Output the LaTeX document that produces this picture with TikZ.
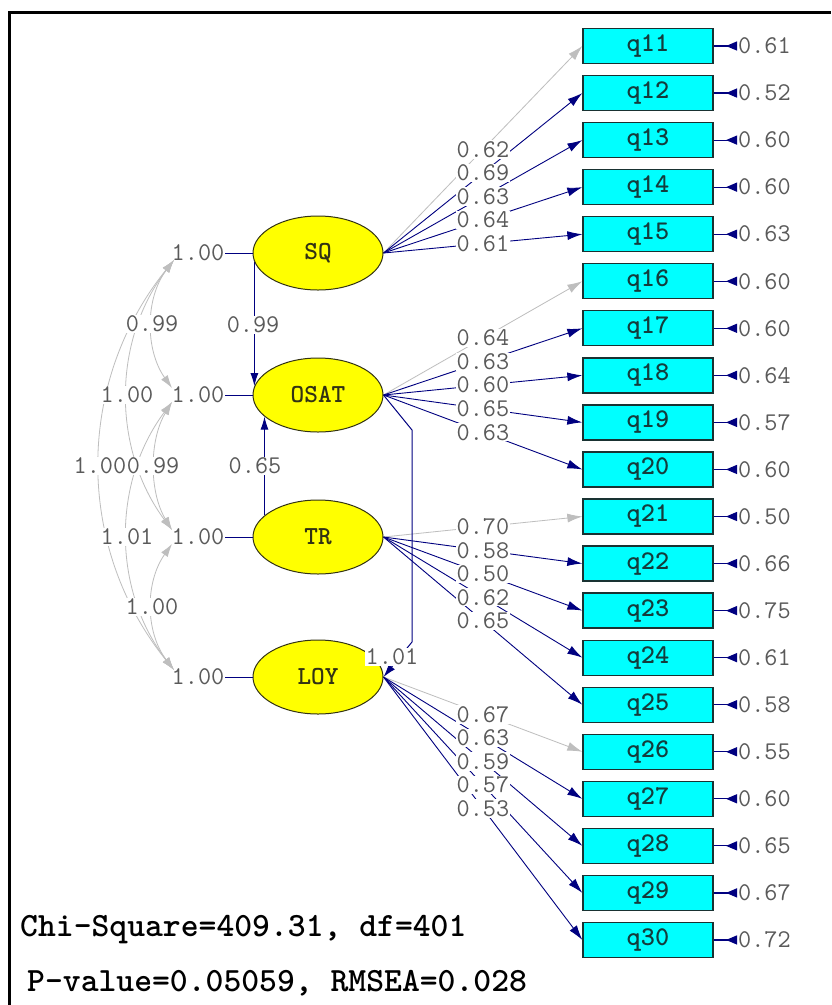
\documentclass[tikz,border=0pt]{standalone}
\usetikzlibrary{arrows.meta,calc,shapes.geometric}
\pgfdeclarelayer{bottom}
\pgfdeclarelayer{lines}
\pgfsetlayers{bottom,lines,main}
\definecolor{navyc}{RGB}{0,0,128}
\definecolor{corgray}{RGB}{190,190,190}
\definecolor{numgray}{RGB}{90,90,90}
\definecolor{latedge}{RGB}{50,50,20}
\definecolor{lattext}{RGB}{50,50,20}
\definecolor{latfill}{RGB}{255,255,0}
\definecolor{obsfill}{RGB}{0,255,255}
\definecolor{obsedge}{RGB}{25,50,50}
\definecolor{obstext}{RGB}{20,60,60}
\begin{document}
\begin{tikzpicture}[x=1pt,y=-1pt,
  lat/.style={ellipse, fill=latfill, draw=latedge, line width=1pt, minimum width=130pt, minimum height=74pt, inner sep=0pt, font=\ttfamily\bfseries\fontsize{26}{26}\selectfont, text=lattext},
  obs/.style={rectangle, fill=obsfill, draw=obsedge, line width=1.3pt, minimum width=130pt, minimum height=35pt, inner sep=0pt, font=\ttfamily\bfseries\fontsize{27}{27}\selectfont, text=obstext},
  num/.style={font=\ttfamily\fontsize{25.5}{25.5}\selectfont, text=numgray, inner sep=1pt},
  numw/.style={num, fill=white},
  loadn/.style={draw=navyc, line width=0.9pt, -{Latex[length=15pt,width=9pt]}},
  loadg/.style={draw=corgray, line width=0.8pt, -{Latex[length=15pt,width=9pt]}},
  errarr/.style={draw=navyc, line width=1.2pt, {Triangle[reversed,length=11pt,width=9pt]}-},
  strarr/.style={draw=navyc, line width=1pt, -{Latex[length=13pt,width=8pt]}},
  varline/.style={draw=navyc, line width=1pt},
  corr/.style={draw=corgray, line width=0.8pt, {Latex[length=13pt,width=8pt]}-{Latex[length=13pt,width=8pt]}},
  stat/.style={font=\ttfamily\bfseries\fontsize{34}{34}\selectfont, text=black, anchor=west, inner sep=0pt}
]
\useasboundingbox (0,0) rectangle (831,1005);
\begin{pgfonlayer}{bottom}
\fill[white] (0,0) rectangle (831,1005);
\end{pgfonlayer}
\draw[line width=3pt] (9.5,1005) -- (9.5,12.5) -- (831,12.5);

% latent variables
\node[lat] (SQ) at (318,253) {SQ};
\node[lat] (OSAT) at (318,395) {OSAT};
\node[lat] (TR) at (318,537) {TR};
\node[lat] (LOY) at (318,677) {LOY};

% observed variables and error variances
\foreach \i/\e in {11/0.61,12/0.52,13/0.60,14/0.60,15/0.63,16/0.60,17/0.60,18/0.64,19/0.57,20/0.60,21/0.50,22/0.66,23/0.75,24/0.61,25/0.58,26/0.55,27/0.60,28/0.65,29/0.67,30/0.72}{
  \pgfmathsetmacro\yy{46+47.05*(\i-11)}
  \node[obs] (q\i) at (648,\yy) {q\i};
  \node[num, anchor=west] (e\i) at (737,\yy) {\e};
  \draw[errarr] (e\i.west) -- (q\i.east);
}

% variances of latents
\foreach \l/\y in {SQ/253,OSAT/395,TR/537,LOY/677}{
  \node[num] (v\l) at (198,\y) {1.00};
  \draw[varline] (v\l) -- (\l);
}

% correlation end points
\coordinate (cSQ) at (174,260);
\coordinate (cOSa) at (172,388);
\coordinate (cOSb) at (172,402);
\coordinate (cTRa) at (172,530);
\coordinate (cTRb) at (172,544);
\coordinate (cLOY) at (174,670);
\coordinate (k1) at (412,430);
\coordinate (k2) at (412,642);

\begin{pgfonlayer}{lines}
  % loadings
  \foreach \l/\f in {SQ/11,OSAT/16,TR/21,LOY/26}{
    \draw[loadg] (\l.east) -- (q\f.west);
    \foreach \k in {1,2,3,4}{
      \pgfmathtruncatemacro\j{\f+\k}
      \draw[loadn] (\l.east) -- (q\j.west);
    }
  }
  % structural paths
  \draw[strarr] (SQ.188) -- (OSAT.172);
  \draw[strarr] (TR.158) -- (OSAT.202);
  \draw[strarr] (OSAT.east) -- (k1) -- (k2) -- (LOY.east);
  % correlations
  \draw[corr] (cSQ) .. controls (145,298) and (145,350) .. (cOSa);
  \draw[corr] (cSQ) .. controls (112,341) and (112,449) .. (cTRa);
  \draw[corr] (cSQ) .. controls (75,383) and (75,547) .. (cLOY);
  \draw[corr] (cOSb) .. controls (149,440) and (149,492) .. (cTRa);
  \draw[corr] (cOSb) .. controls (112,482) and (112,590) .. (cLOY);
  \draw[corr] (cTRb) .. controls (145,582) and (145,632) .. (cLOY);
\end{pgfonlayer}

% loading labels
\foreach \l/\i/\v in {SQ/11/0.62,SQ/12/0.69,SQ/13/0.63,SQ/14/0.64,SQ/15/0.61,
  OSAT/16/0.64,OSAT/17/0.63,OSAT/18/0.60,OSAT/19/0.65,OSAT/20/0.63,
  TR/21/0.70,TR/22/0.58,TR/23/0.50,TR/24/0.62,TR/25/0.65,
  LOY/26/0.67,LOY/27/0.63,LOY/28/0.59,LOY/29/0.57,LOY/30/0.53}{
  \node[numw] (L\i) at ($(\l.east)!0.5!(q\i.west)$) {\v};
}

% structural labels
\node[numw] (s1) at (253,325) {0.99};
\node[numw] (s2) at (255,466) {0.65};
\node[numw] (s3) at (392,657) {1.01};

% correlation labels
\node[numw] (r1) at (152,324) {0.99};
\node[numw] (r2) at (127,395) {1.00};
\node[numw] (r4) at (153,466) {0.99};
\node[numw] (r3) at (100,466) {1.00};
\node[numw] (r5) at (127,537) {1.01};
\node[numw] (r6) at (152,607) {1.00};

% fit statistics
\node[stat] (chi) at (20,930) {Chi-Square=409.31, df=401};
\node[stat] (pv) at (27,983) {P-value=0.05059, RMSEA=0.028};
\end{tikzpicture}
\end{document}
